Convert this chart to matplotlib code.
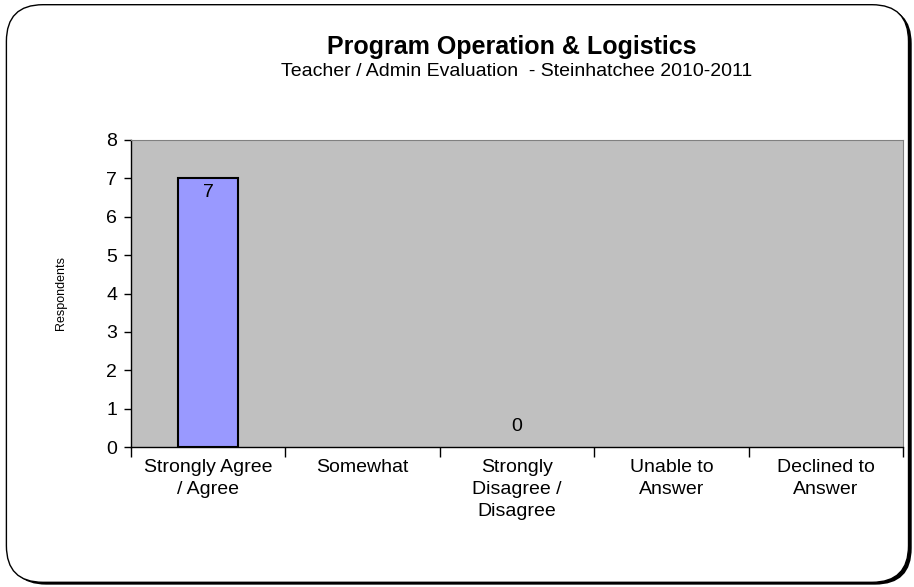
import matplotlib.pyplot as plt
import numpy as np
from matplotlib.patches import FancyBboxPatch

plt.rcParams['font.family'] = ['Liberation Sans', 'DejaVu Sans']

categories = ["Strongly Agree\n/ Agree", "Somewhat", "Strongly\nDisagree /\nDisagree",
              "Unable to\nAnswer", "Declined to\nAnswer"]
respondents = [7, np.nan, 0, np.nan, np.nan]

fig = plt.figure(figsize=(9.14, 5.87), dpi=100)

# rounded frame with a little shadow
asp = 914 / 587
shadow = FancyBboxPatch((0.0105, 0.004), 0.987, 0.984, boxstyle="round,pad=0,rounding_size=0.04",
                        transform=fig.transFigure, facecolor="black", edgecolor="none",
                        mutation_aspect=asp, zorder=0)
frame = FancyBboxPatch((0.007, 0.008), 0.987, 0.984, boxstyle="round,pad=0,rounding_size=0.04",
                       transform=fig.transFigure, facecolor="white", edgecolor="black",
                       linewidth=1.0, mutation_aspect=asp, zorder=1)
fig.patches.extend([shadow, frame])

ax = fig.add_axes([131 / 914, 1 - 447 / 587, (903 - 131) / 914, (447 - 140) / 587])
ax.set_facecolor("#C0C0C0")
ax.set_zorder(2)

x = np.arange(len(categories))
vals = np.array(respondents)
has = ~np.isnan(vals)
bars = ax.bar(x[has], vals[has], width=0.39, color="#9999FF", edgecolor="black", linewidth=1.5)
for b, v in zip(bars, vals[has]):
    if v == 0:
        b.set_linewidth(0)
for xi, v in zip(x[has], vals[has]):
    if v > 0:
        ax.text(xi, v - 0.15, f"{v:g}", ha="center", va="top", fontsize=14)
    else:
        ax.text(xi, 0.3, f"{v:g}", ha="center", va="bottom", fontsize=14)

ax.set_xlim(-0.5, len(categories) - 0.5)
ax.set_ylim(0, 8)
ax.set_yticks(range(0, 9))
ax.set_xticks(np.arange(len(categories) + 1) - 0.5)
ax.set_xticklabels([])
ax.set_xticks(x, minor=True)
ax.set_xticklabels(categories, minor=True, fontsize=14, linespacing=1.35)
ax.tick_params(axis="x", which="minor", length=0, pad=9)
ax.tick_params(axis="x", which="major", length=7, width=1, direction="out")
ax.tick_params(axis="y", length=5, width=1, labelsize=14, pad=5)

for side in ["top", "right"]:
    ax.spines[side].set_color("#808080")
ax.spines["left"].set_linewidth(1)
ax.spines["bottom"].set_linewidth(1)

ax.set_ylabel("Respondents", fontsize=9, labelpad=28)

fig.text(0.56, 1 - 47 / 587, "Program Operation & Logistics", ha="center", va="center",
         fontsize=18, fontweight="bold")
fig.text(0.565, 1 - 71 / 587, "Teacher / Admin Evaluation  - Steinhatchee 2010-2011",
         ha="center", va="center", fontsize=14)

fig.savefig("out.png", dpi=100)
